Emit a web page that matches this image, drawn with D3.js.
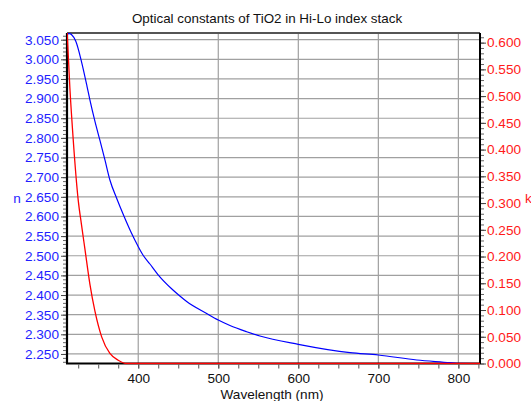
<!DOCTYPE html>
<html>
<head>
<meta charset="utf-8">
<script src="https://cdn.jsdelivr.net/npm/d3@7"></script>
<style>
html,body{margin:0;padding:0;background:#fff;}
svg{display:block;font-family:"Liberation Sans",Arial,sans-serif;}
</style>
</head>
<body>
<svg id="chart" width="531" height="401"></svg>
<script>
const title = "Optical constants of TiO2 in Hi-Lo index stack";
const xLabel = "Wavelength (nm)";
const nLabel = "n";
const kLabel = "k";

// n (blue) curve
const nWavelength = [311,314,316.8,322,329,336,339.6,346,352,358.4,364.6,373.4,382.1,390.9,399.6,405.9,414.6,424.6,443.4,452,460.5,485.5,500,514.6,535.5,552,600,664.6,700,748,789.6,798,827];
const nValues     = [3.0645,3.0653,3.0627,3.0459,2.995,2.9314,2.8965,2.8412,2.7947,2.7438,2.6928,2.6445,2.6012,2.5605,2.5249,2.5020,2.4790,2.4522,2.4128,2.3975,2.3836,2.3530,2.3364,2.3224,2.3066,2.2957,2.2745,2.2532,2.2473,2.2346,2.2278,2.2262,2.2257];

// k (red) curve
const kWavelength = [311,314.6,318.8,325,329,333.4,339.6,345.9,354.3,364.6,375,385.5,400,500,600,700,800,827];
const kValues     = [0.625,0.515,0.418,0.3056,0.2607,0.2139,0.1484,0.0979,0.0498,0.0187,0.0062,0,0,0,0,0,0,0];

const xTicks = [400,500,600,700,800];
const nTicks = [2.25,2.3,2.35,2.4,2.45,2.5,2.55,2.6,2.65,2.7,2.75,2.8,2.85,2.9,2.95,3.0,3.05];
const kTicks = [0,0.05,0.1,0.15,0.2,0.25,0.3,0.35,0.4,0.45,0.5,0.55,0.6];

const svg = d3.select("#chart");
const L = 67, R = 480, T = 33, B = 363.5;

const x = d3.scaleLinear().domain([311, 827]).range([L, R]);
const yN = d3.scaleLinear().domain([2.2257, 3.067]).range([B, T]);
const yK = d3.scaleLinear().domain([0, 0.618]).range([B, T]);

// clip
svg.append("defs").append("clipPath").attr("id","clip")
  .append("rect").attr("x", L).attr("y", T).attr("width", R - L).attr("height", B - T + 1);

// grid
const grid = svg.append("g").attr("stroke", "#a0a0a0").attr("stroke-width", 1.2);
nTicks.forEach(v => {
  grid.append("line").attr("x1", L).attr("x2", R).attr("y1", yN(v)).attr("y2", yN(v));
});
xTicks.forEach(v => {
  grid.append("line").attr("x1", x(v)).attr("x2", x(v)).attr("y1", T).attr("y2", B);
});

// border
svg.append("line").attr("x1", L).attr("x2", R).attr("y1", T).attr("y2", T).attr("stroke", "#555").attr("stroke-width", 2);
svg.append("line").attr("x1", L).attr("x2", L).attr("y1", T).attr("y2", B).attr("stroke", "#000").attr("stroke-width", 2.2);
svg.append("line").attr("x1", R).attr("x2", R).attr("y1", T).attr("y2", B).attr("stroke", "#000").attr("stroke-width", 2);
svg.append("line").attr("x1", L - 1).attr("x2", R + 1).attr("y1", B).attr("y2", B).attr("stroke", "#000").attr("stroke-width", 2.2);

// axes
const minorN = d3.range(2.23, 3.0651, 0.01);
const minorK = d3.range(0, 0.6151, 0.01);
const minorX = d3.range(325, 826, 25);

const axL = svg.append("g").attr("transform", `translate(${L - 1},0)`);
axL.call(d3.axisLeft(yN).tickValues(minorN).tickSize(3).tickFormat(""));
axL.call(g => g.select(".domain").remove());
axL.selectAll("line").attr("stroke", "#666");

const axLMajor = svg.append("g").attr("transform", `translate(${L - 1},0)`)
  .call(d3.axisLeft(yN).tickValues(nTicks).tickSize(5).tickPadding(2).tickFormat(d3.format(".3f")));
axLMajor.select(".domain").remove();
axLMajor.selectAll("line").attr("stroke", "#444");
axLMajor.selectAll("text").attr("fill", "#1f1fff").style("font-size", "13.6px").style("font-family", "Liberation Sans, Arial, sans-serif");

const axR = svg.append("g").attr("transform", `translate(${R + 1},0)`);
axR.call(d3.axisRight(yK).tickValues(minorK).tickSize(3).tickFormat(""));
axR.select(".domain").remove();
axR.selectAll("line").attr("stroke", "#666");

const axRMajor = svg.append("g").attr("transform", `translate(${R + 1},0)`)
  .call(d3.axisRight(yK).tickValues(kTicks).tickSize(5).tickPadding(1).tickFormat(d3.format(".3f")));
axRMajor.select(".domain").remove();
axRMajor.selectAll("line").attr("stroke", "#444");
axRMajor.selectAll("text").attr("fill", "#ff1a1a").style("font-size", "13.6px").style("font-family", "Liberation Sans, Arial, sans-serif");

const axB = svg.append("g").attr("transform", `translate(0,${B + 1})`);
axB.call(d3.axisBottom(x).tickValues(minorX).tickSize(4).tickFormat(""));
axB.select(".domain").remove();
axB.selectAll("line").attr("stroke", "#555");

const axBMajor = svg.append("g").attr("transform", `translate(0,${B + 1})`)
  .call(d3.axisBottom(x).tickValues(xTicks).tickSize(4).tickPadding(5).tickFormat(d3.format("d")));
axBMajor.select(".domain").remove();
axBMajor.selectAll("line").attr("stroke", "#555");
axBMajor.selectAll("text").attr("fill", "#111").style("font-size", "13.6px").style("font-family", "Liberation Sans, Arial, sans-serif");

// curves
const plot = svg.append("g").attr("clip-path", "url(#clip)");
const nData = nWavelength.map((w, i) => [w, nValues[i]]);
const kData = kWavelength.map((w, i) => [w, kValues[i]]);

plot.append("path").datum(nData)
  .attr("d", d3.line().x(d => x(d[0])).y(d => yN(d[1])).curve(d3.curveMonotoneX))
  .attr("fill", "none").attr("stroke", "#0000ff").attr("stroke-width", 1.2);

plot.append("path").datum(kData)
  .attr("d", d3.line().x(d => x(d[0])).y(d => yK(d[1])).curve(d3.curveMonotoneX))
  .attr("fill", "none").attr("stroke", "#ff0000").attr("stroke-width", 1.3);

// labels
svg.append("text").attr("x", 267).attr("y", 23).attr("text-anchor", "middle")
  .attr("fill", "#111").style("font-size", "13.4px").text(title);
svg.append("text").attr("x", 272).attr("y", 399).attr("text-anchor", "middle")
  .attr("fill", "#111").style("font-size", "13.6px").text(xLabel);
svg.append("text").attr("x", 17).attr("y", 203).attr("text-anchor", "middle")
  .attr("fill", "#1f1fff").style("font-size", "13.6px").text(nLabel);
svg.append("text").attr("x", 525).attr("y", 203)
  .attr("fill", "#ff1a1a").style("font-size", "13.6px").text(kLabel);
</script>
</body>
</html>
